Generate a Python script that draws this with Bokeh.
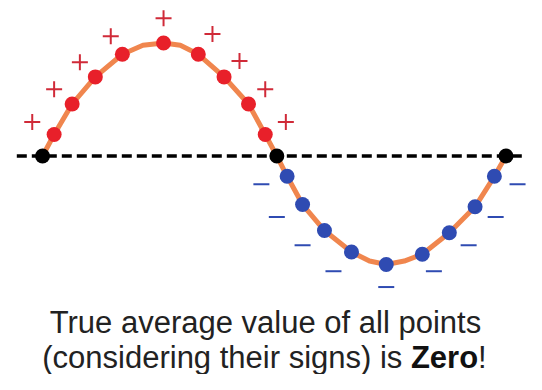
from bokeh.plotting import figure
from bokeh.models import Range1d
from bokeh.embed import file_html
from bokeh.resources import INLINE
from bokeh.core.properties import value

# ---- data (x: phase in degrees, y: amplitude) ----
zero_x = [0, 182, 360]
zero_y = [0, 0, 0]

pos_x = [9, 23, 41, 62, 94, 121, 141, 160, 173]
pos_y = [0.19, 0.46, 0.70, 0.90, 1.00, 0.90, 0.70, 0.46, 0.19]

neg_x = [190, 202, 219, 240, 267, 295, 316, 336, 351]
neg_y = [-0.18, -0.43, -0.66, -0.85, -0.96, -0.87, -0.68, -0.45, -0.18]

plus_x = [-8, 9, 29, 53, 94, 132, 153, 173, 189]
plus_y = [0.30, 0.59, 0.83, 1.06, 1.22, 1.08, 0.84, 0.59, 0.30]

minus_x = [170, 182, 202, 226, 267, 304, 331, 352, 369]
minus_y = [-0.25, -0.54, -0.79, -1.02, -1.16, -1.02, -0.79, -0.54, -0.25]

# curve vertices read along the orange wave
curve_x = [0, 9, 23, 41, 62, 78, 94, 107, 121, 141, 160, 173, 182,
           190, 202, 219, 240, 254, 267, 281, 295, 316, 336, 351, 360]
curve_y = [0, 0.19, 0.46, 0.70, 0.90, 0.98, 1.00, 0.98, 0.90, 0.70, 0.46, 0.19, 0,
           -0.18, -0.43, -0.66, -0.85, -0.93, -0.96, -0.93, -0.87, -0.68, -0.45, -0.18, 0]

baseline_x = [-20, 390]
baseline_y = [0, 0]

caption_1 = "True average value of all points"
caption_2a = "(considering their signs) is"
caption_2b = "Zero"
caption_2c = "!"

W, H = 526, 374
p = figure(width=W, height=H, output_backend="svg", toolbar_location=None,
           x_range=Range1d(-32.66, 375.95), y_range=Range1d(-1.934, 1.376),
           min_border=0)
p.xaxis.visible = False
p.yaxis.visible = False
p.grid.visible = False
p.outline_line_color = None
p.background_fill_color = "white"
p.border_fill_color = "white"

p.line(baseline_x, baseline_y, line_color="black", line_width=3.5, line_dash="10 5")
p.line(curve_x, curve_y, line_color="#F0864E", line_width=5, line_join="round")

p.scatter(pos_x, pos_y, size=15, fill_color="#E8202A", line_color=None)
p.scatter(neg_x, neg_y, size=15, fill_color="#2F4BB2", line_color=None)
p.scatter(zero_x, zero_y, size=15, fill_color="black", line_color=None)

p.scatter(plus_x, plus_y, marker="cross", size=16, line_color="#D02A38", line_width=2)
p.scatter(minus_x, minus_y, marker="dash", size=16, line_color="#2F4BB2", line_width=2)

font = value("Liberation Sans")
ref_px_per_deg = 237 / 180.0


def deg(ref_px):
    return (ref_px - 43) / ref_px_per_deg


def amp(ref_py):
    return (155.5 - ref_py) / 113.0


fs = "31px"
y1, y2 = amp(322), amp(357)
p.text(x=[deg(271)], y=[y1], text=[caption_1], text_font=font, text_font_size=fs,
       text_color="#222222", text_align="center", text_baseline="alphabetic")
p.text(x=[deg(419.8 - 8.8)], y=[y2], text=[caption_2a], text_font=font,
       text_font_size=fs, text_color="#222222", text_align="right", text_baseline="alphabetic")
p.text(x=[deg(419.8)], y=[y2], text=[caption_2b], text_font=font,
       text_font_size=fs, text_font_style="bold", text_color="#111111", text_align="left",
       text_baseline="alphabetic")
p.text(x=[deg(488.5)], y=[y2], text=[caption_2c], text_font=font,
       text_font_size=fs, text_color="#222222", text_align="left", text_baseline="alphabetic")

open("out.html", "w").write(file_html(p, INLINE))
